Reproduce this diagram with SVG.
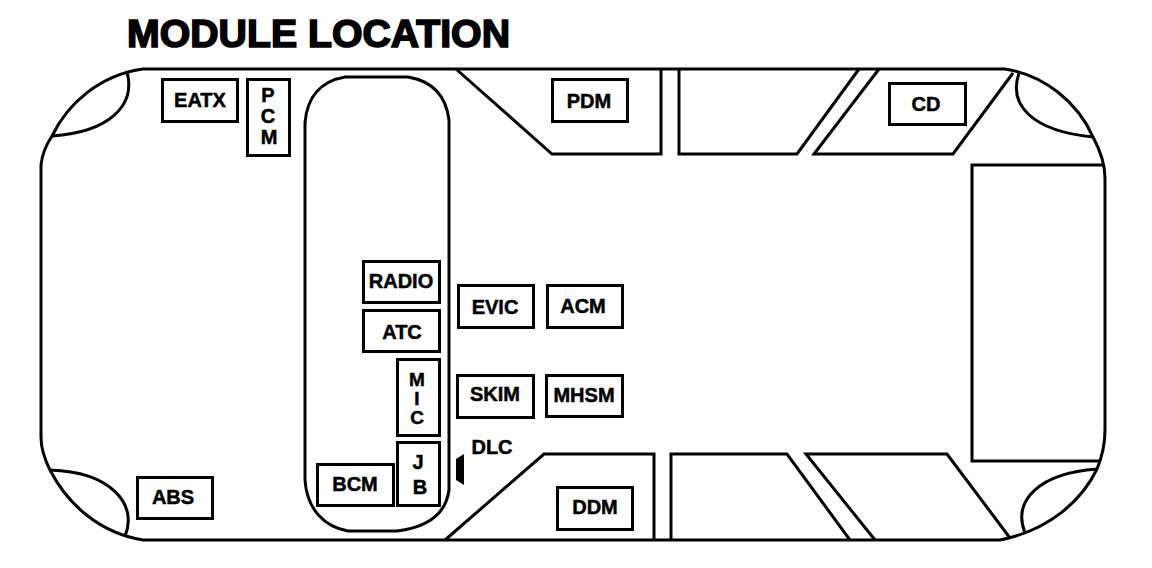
<svg xmlns="http://www.w3.org/2000/svg" width="1152" height="568" viewBox="0 0 1152 568">
<style>
.l{fill:none;stroke:#000;stroke-width:3}
.t{font-family:"Liberation Sans",Arial,sans-serif;font-weight:bold;font-size:20px;fill:#000;text-anchor:middle;stroke:#000;stroke-width:.5}
.m{font-size:19px}
.b{fill:#fff;stroke:#000;stroke-width:3}
</style>
<rect width="1152" height="568" fill="#fff"/>
<text id="title" x="127" y="46.500" font-family="Liberation Sans, Arial, sans-serif" font-weight="bold" font-size="38" stroke="#000" stroke-width="1.6" textLength="383" lengthAdjust="spacingAndGlyphs">MODULE LOCATION</text>
<g id="connectors">
<path id="body" class="l" d="M143 69H1005C1045 75 1078 103 1093 137C1100 150 1105 165 1105 178V430C1105 445 1102 457 1097 469C1082 500 1050 530 1000 540H143C100 533 68 505 50 470C45 460 41 450 41 437V165C42 155 46 145 52 136C68 103 100 75 143 69Z"/>
<path id="console" class="l" d="M305 123C307 96 322 81 345 77H408C432 81 446 96 449 120V490C446 512 430 527 397 531H348C325 527 307 510 305 480Z"/>
<path class="l" d="M127 72C136 105 110 132 52 136"/>
<path class="l" d="M1019 73C1008 105 1032 131 1093 137"/>
<path class="l" d="M50 470C112 472 138 505 125 536"/>
<path class="l" d="M1097 469C1040 473 1012 500 1025 533"/>
<path class="l" d="M456 69L552 154H661V69"/>
<path class="l" d="M679 69V154H797L859 69"/>
<path class="l" d="M879 69L814 154H953L1013 73"/>
<path class="l" d="M1103 165H972V461H1099"/>
<path class="l" d="M445 540L544 454H654V540"/>
<path class="l" d="M671 540V454H787L850 540"/>
<path class="l" d="M875 540L806 454H947L1010 538"/>
<path d="M464 454V485L456 480V459Z" fill="#000"/>
</g>
<g id="EATX"><rect class="b" x="162.500" y="79.500" width="75" height="42"/><text class="t" x="200" y="107">EATX</text></g>
<g id="PCM"><rect class="b" x="247.500" y="79.500" width="42" height="76"/><text class="t" x="268" y="102">P</text><text class="t" x="268" y="123">C</text><text class="t" x="269" y="144">M</text></g>
<g id="PDM"><rect class="b" x="552.500" y="79.500" width="75" height="42"/><text class="t" x="589" y="108">PDM</text></g>
<g id="CD"><rect class="b" x="889.500" y="83.500" width="76" height="41"/><text class="t" x="926" y="111">CD</text></g>
<g id="RADIO"><rect class="b" x="363.500" y="261.500" width="76" height="41"/><text class="t" x="401" y="288">RADIO</text></g>
<g id="ATC"><rect class="b" x="363.500" y="310.500" width="76" height="41"/><text class="t" x="402" y="339">ATC</text></g>
<g id="EVIC"><rect class="b" x="458.500" y="285.500" width="75" height="42"/><text class="t" x="495" y="314">EVIC</text></g>
<g id="ACM"><rect class="b" x="547.500" y="285.500" width="75" height="42"/><text class="t" x="583" y="313">ACM</text></g>
<g id="MIC"><rect class="b" x="397.500" y="359.500" width="42" height="76"/><text class="t m" x="417" y="385.500">M</text><text class="t m" x="417" y="405">I</text><text class="t m" x="417" y="424">C</text></g>
<g id="SKIM"><rect class="b" x="457.500" y="375.500" width="76" height="42"/><text class="t" x="495" y="401">SKIM</text></g>
<g id="MHSM"><rect class="b" x="546.500" y="375.500" width="76" height="41"/><text class="t" x="584" y="402">MHSM</text></g>
<g id="JB"><rect class="b" x="397.500" y="442.500" width="42" height="63"/><text class="t" x="418" y="469">J</text><text class="t" x="420" y="494">B</text></g>
<g id="BCM"><rect class="b" x="317.500" y="464.500" width="76" height="41"/><text class="t" x="355" y="491">BCM</text></g>
<g id="ABS"><rect class="b" x="137.500" y="477.500" width="75" height="41"/><text class="t" x="173" y="504">ABS</text></g>
<g id="DDM"><rect class="b" x="557.500" y="487.500" width="75" height="42"/><text class="t" x="595" y="514">DDM</text></g>
<g id="DLC"><text class="t" x="492" y="454">DLC</text></g>
</svg>
